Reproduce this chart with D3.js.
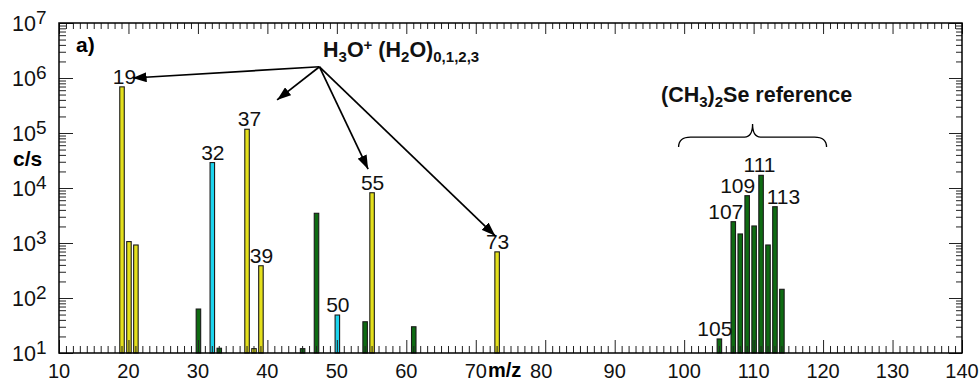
<!DOCTYPE html>
<html>
<head>
<meta charset="utf-8">
<script src="https://cdn.jsdelivr.net/npm/d3@7"></script>
<style>
  body { margin: 0; background: #fff; }
  svg { display: block; font-family: Arial, "Liberation Sans", sans-serif; }
</style>
</head>
<body>
<svg id="chart" width="979" height="383"></svg>
<script>
// ---- data ----
const h3oMz     = [19, 20, 21, 37, 38, 39, 55, 73];
const h3oCounts = [690000, 1060, 920, 117000, 12, 386, 8200, 690];
const o2Mz      = [32, 50];
const o2Counts  = [29000, 49];
const otherMz     = [30, 33, 45, 47, 54, 61, 105, 107, 108, 109, 110, 111, 112, 113, 114];
const otherCounts = [63, 12.2, 12, 3470, 37, 30, 18, 2440, 1460, 7250, 2040, 17000, 920, 4570, 144];
const peakLabels  = [19, 32, 37, 39, 50, 55, 73, 105, 107, 109, 111, 113];
const xTickLabels = [10, 20, 30, 40, 50, 60, 70, 80, 90, 100, 110, 120, 130, 140];
const yTickExps   = [1, 2, 3, 4, 5, 6, 7];
const arrowTargets = [[20.6, 1.0e6], [41.4, 4.0e5], [54.5, 2.2e4], [72.8, 1.35e3]];
const arrowOrigin  = [47.5, 1.6e6];

// ---- layout ----
const L = 59, R = 962, T = 23, B = 353;
const svg = d3.select("#chart");
const x = d3.scaleLinear().domain([10, 140]).range([L, R]);
const y = d3.scaleLog().domain([10, 1e7]).range([B, T]);

const colors = { h3o: "#e4e01c", o2: "#1cd4ee", other: "#0e6b12" };
const series = [
  { key: "h3o", mz: h3oMz, v: h3oCounts },
  { key: "o2", mz: o2Mz, v: o2Counts },
  { key: "other", mz: otherMz, v: otherCounts }
];
const allMz = [].concat(h3oMz, o2Mz, otherMz);
const allV = [].concat(h3oCounts, o2Counts, otherCounts);
const valueAt = m => allV[allMz.indexOf(m)];

// ---- bars ----
const bw = 4.5;
series.forEach(s => {
  svg.append("g").selectAll("rect")
    .data(s.mz.map((m, i) => ({ m, v: s.v[i] })))
    .join("rect")
    .attr("x", d => x(d.m) - bw / 2 + 0.5)
    .attr("y", d => y(d.v))
    .attr("width", bw)
    .attr("height", d => B - y(d.v))
    .attr("fill", colors[s.key])
    .attr("stroke", "#1a1a1a")
    .attr("stroke-width", 1.1);
});

// ---- axes ----
const minorX = d3.range(10, 141, 1).filter(v => v % 10 !== 0);
const majorX = d3.range(10, 141, 10);
const minorY = [];
for (let e = 1; e < 7; e++) for (let k = 2; k <= 9; k++) minorY.push(k * Math.pow(10, e));
const majorY = yTickExps.map(e => Math.pow(10, e));

function tickAxis(axisFn, scale, vals, size, transform) {
  const g = svg.append("g").attr("transform", transform)
    .call(axisFn(scale).tickValues(vals).tickSize(size).tickFormat(""));
  g.select(".domain").remove();
  g.selectAll(".tick line").attr("stroke", "#222").attr("stroke-width", 1);
  return g;
}
tickAxis(d3.axisBottom, x, minorX, -7, `translate(0,${B})`);
tickAxis(d3.axisBottom, x, majorX, -13, `translate(0,${B})`);
tickAxis(d3.axisTop, x, minorX, -6, `translate(0,${T})`);
tickAxis(d3.axisTop, x, majorX, -11, `translate(0,${T})`);
tickAxis(d3.axisLeft, y, minorY, -7, `translate(${L},0)`);
tickAxis(d3.axisLeft, y, majorY, -14, `translate(${L},0)`);
tickAxis(d3.axisRight, y, minorY, -6, `translate(${R},0)`);
tickAxis(d3.axisRight, y, majorY, -13, `translate(${R},0)`);

svg.append("rect").attr("x", L).attr("y", T).attr("width", R - L).attr("height", B - T)
  .attr("fill", "none").attr("stroke", "#000").attr("stroke-width", 1.5);

// x tick labels
svg.append("g").selectAll("text").data(xTickLabels).join("text")
  .attr("x", d => x(d) + (d === 80 ? -4 : 0)).attr("y", B + 25)
  .attr("text-anchor", "middle").attr("font-size", 20).attr("fill", "#111")
  .text(d => d);

// y tick labels with superscript
const yl = svg.append("g").selectAll("text").data(yTickExps).join("text")
  .attr("x", 12).attr("y", d => y(Math.pow(10, d)) + 8)
  .attr("font-size", 21.5).attr("fill", "#111");
yl.append("tspan").text("10");
yl.append("tspan").attr("dy", -7).attr("font-size", 19).text(d => d);

// axis titles
svg.append("text").attr("x", 488).attr("y", 377).attr("font-size", 20)
  .attr("font-weight", "bold").text("m/z");
svg.append("text").attr("x", 13).attr("y", 166).attr("font-size", 21)
  .attr("font-weight", "bold").text("c/s");
svg.append("text").attr("x", 76).attr("y", 52).attr("font-size", 21)
  .attr("font-weight", "bold").text("a)");

// ---- peak labels ----
const labelDx = { 19: 3, 37: 3, 105: -4, 107: -7, 109: -9, 111: -1, 113: 9 };
svg.append("g").selectAll("text").data(peakLabels).join("text")
  .attr("x", d => x(d) + (labelDx[d] || 1))
  .attr("y", d => y(valueAt(d)) - 3)
  .attr("text-anchor", "middle").attr("font-size", 21).attr("fill", "#111")
  .text(d => d);

// ---- annotation: H3O+ (H2O)n ----
const title = svg.append("text").attr("x", 323).attr("y", 57)
  .attr("font-size", 21.5).attr("font-weight", "bold").attr("fill", "#111");
title.append("tspan").text("H");
title.append("tspan").attr("dy", 5).attr("font-size", 15).text("3");
title.append("tspan").attr("dy", -5).text("O");
title.append("tspan").attr("dy", -7).attr("font-size", 15).text("+");
title.append("tspan").attr("dy", 7).text(" (H");
title.append("tspan").attr("dy", 5).attr("font-size", 15).text("2");
title.append("tspan").attr("dy", -5).text("O)");
title.append("tspan").attr("dy", 5).attr("font-size", 15).text("0,1,2,3");

svg.append("defs").append("marker")
  .attr("id", "ah").attr("viewBox", "0 0 14 10").attr("refX", 14).attr("refY", 5)
  .attr("markerWidth", 14).attr("markerHeight", 10).attr("markerUnits", "userSpaceOnUse")
  .attr("orient", "auto")
  .append("path").attr("d", "M0,0 L14,5 L0,10 Z").attr("fill", "#000");

svg.append("g").selectAll("line").data(arrowTargets).join("line")
  .attr("x1", x(arrowOrigin[0])).attr("y1", y(arrowOrigin[1]))
  .attr("x2", d => x(d[0])).attr("y2", d => y(d[1]))
  .attr("stroke", "#000").attr("stroke-width", 1.7)
  .attr("marker-end", "url(#ah)");

// ---- (CH3)2Se reference ----
const ref = svg.append("text").attr("x", 661).attr("y", 102)
  .attr("font-size", 21.5).attr("font-weight", "bold").attr("fill", "#111");
ref.append("tspan").text("(CH");
ref.append("tspan").attr("dy", 5).attr("font-size", 15).text("3");
ref.append("tspan").attr("dy", -5).text(")");
ref.append("tspan").attr("dy", 5).attr("font-size", 15).text("2");
ref.append("tspan").attr("dy", -5).text("Se reference");

const bx0 = x(99.2), bx1 = x(120.5), bxm = (bx0 + bx1) / 2;
const by0 = y(Math.pow(10, 4.745)), by1 = by0 - 10, byt = by0 - 23;
svg.append("path")
  .attr("d", `M${bx0},${by0} Q${bx0},${by1} ${bx0 + 12},${by1} L${bxm - 8},${by1} Q${bxm},${by1} ${bxm},${byt}
              Q${bxm},${by1} ${bxm + 8},${by1} L${bx1 - 12},${by1} Q${bx1},${by1} ${bx1},${by0}`)
  .attr("fill", "none").attr("stroke", "#000").attr("stroke-width", 1.3);
</script>
</body>
</html>
